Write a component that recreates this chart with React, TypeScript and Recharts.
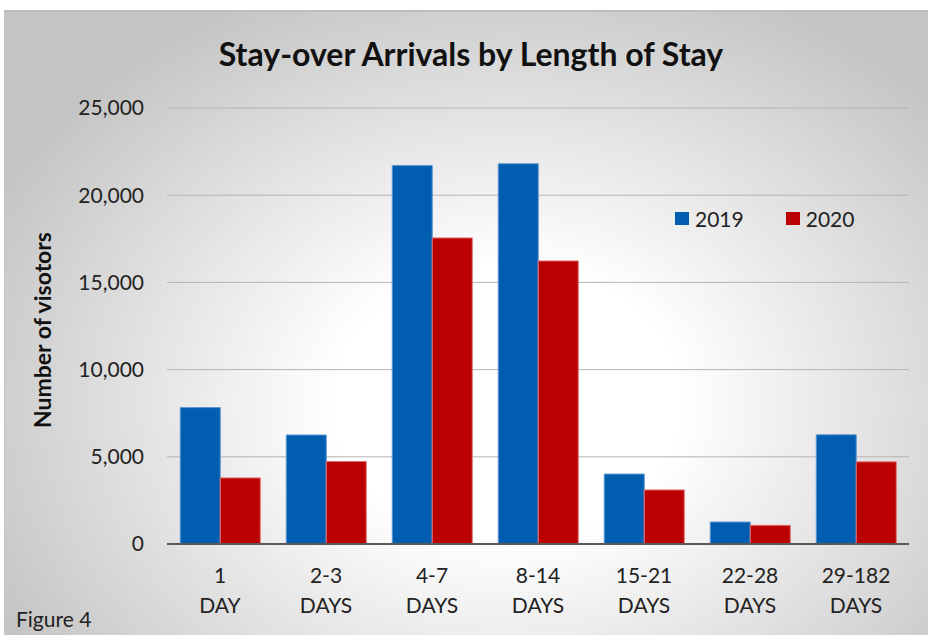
import { BarChart, Bar, XAxis, YAxis, CartesianGrid } from 'recharts'

const categories = ['1 DAY', '2-3 DAYS', '4-7 DAYS', '8-14 DAYS', '15-21 DAYS', '22-28 DAYS', '29-182 DAYS']
const values2019 = [7820, 6250, 21700, 21800, 4010, 1260, 6260]
const values2020 = [3790, 4730, 17550, 16230, 3100, 1070, 4710]
const yTicks = [0, 5000, 10000, 15000, 20000, 25000]
const seriesNames = ['2019', '2020']

const BLUE = '#005DAF'
const RED = '#BA0000'
const FONT = 'Lato, "Open Sans", sans-serif'

const data = categories.map((c, i) => ({
  name: c,
  v2019: values2019[i],
  v2020: values2020[i],
}))

const fmt = (v: number) => v.toLocaleString('en-US')

// two-line category label: "4-7" over "DAYS"
function CatTick({ x, y, payload }: any) {
  const s = String(payload.value)
  const cut = s.lastIndexOf(' ')
  return (
    <g>
      <text x={x} y={y + 39} textAnchor="middle" fontSize={21} fill="#222" fontFamily={FONT}>
        {s.slice(0, cut)}
      </text>
      <text x={x} y={y + 69} textAnchor="middle" fontSize={21} fill="#222" fontFamily={FONT}>
        {s.slice(cut + 1)}
      </text>
    </g>
  )
}

function YearLegend() {
  const colors = [BLUE, RED]
  return (
    <div style={{ display: 'flex', fontFamily: FONT, fontSize: 21, color: '#222' }}>
      {seriesNames.map((n, i) => (
        <div key={n} style={{ display: 'flex', alignItems: 'center', marginRight: 42 }}>
          <span style={{ width: 14, height: 13, background: colors[i], marginRight: 6, display: 'inline-block' }} />
          <span>{n}</span>
        </div>
      ))}
    </div>
  )
}

export default function App() {
  return (
    <div style={{ position: 'absolute', left: 0, top: 0, width: 928, height: 635, background: '#fff', overflow: 'hidden' }}>
      <div
        style={{
          position: 'absolute', left: 4, top: 10, width: 930, height: 630,
          borderTop: '2px solid #bdbdbd', borderLeft: '1px solid #c8c8c8',
          background: 'radial-gradient(ellipse 62% 72% at 54% 62%, #ffffff 30%, #c4c4c4 100%)',
        }}
      />
      <div
        style={{
          position: 'absolute', left: 0, width: 942, top: 35, textAlign: 'center',
          fontFamily: FONT, fontWeight: 700, fontSize: 32, lineHeight: '38px', color: '#111',
        }}
      >
        Stay-over Arrivals by Length of Stay
      </div>
      <div
        style={{
          position: 'absolute', left: 42, top: 330, transform: 'translate(-50%, -50%) rotate(-90deg)',
          whiteSpace: 'nowrap', fontFamily: FONT, fontWeight: 700, fontSize: 23, color: '#111',
        }}
      >
        Number of visotors
      </div>
      <div style={{ position: 'absolute', left: 16, top: 606, fontFamily: FONT, fontSize: 21, color: '#222' }}>
        Figure 4
      </div>
      <div style={{ position: 'absolute', left: 0, top: 0 }}>
        <BarChart
          width={928}
          height={635}
          data={data}
          margin={{ top: 108, right: 19, left: 0, bottom: 0 }}
          barCategoryGap="12.5%"
          barGap={0}
        >
          <CartesianGrid vertical={false} stroke="#b4b4b4" />
          <XAxis
            dataKey="name"
            height={91}
            tick={<CatTick />}
            tickLine={false}
            tickSize={0}
            tickMargin={0}
            axisLine={{ stroke: '#595959', strokeWidth: 2 }}
            interval={0}
          />
          <YAxis
            width={167}
            domain={[0, 25000]}
            ticks={yTicks}
            tickFormatter={fmt}
            axisLine={false}
            tickLine={false}
            tickMargin={17}
            tick={{ fontSize: 21, fill: '#222', fontFamily: FONT }}
          />
          <Bar dataKey="v2019" name="2019" fill={BLUE} stroke="#5d95d0" strokeWidth={1} isAnimationActive={false} />
          <Bar dataKey="v2020" name="2020" fill={RED} stroke="#e07070" strokeWidth={1} isAnimationActive={false} />
        </BarChart>
      </div>
      <div style={{ position: 'absolute', left: 675, top: 206 }}>
        <YearLegend />
      </div>
    </div>
  )
}
